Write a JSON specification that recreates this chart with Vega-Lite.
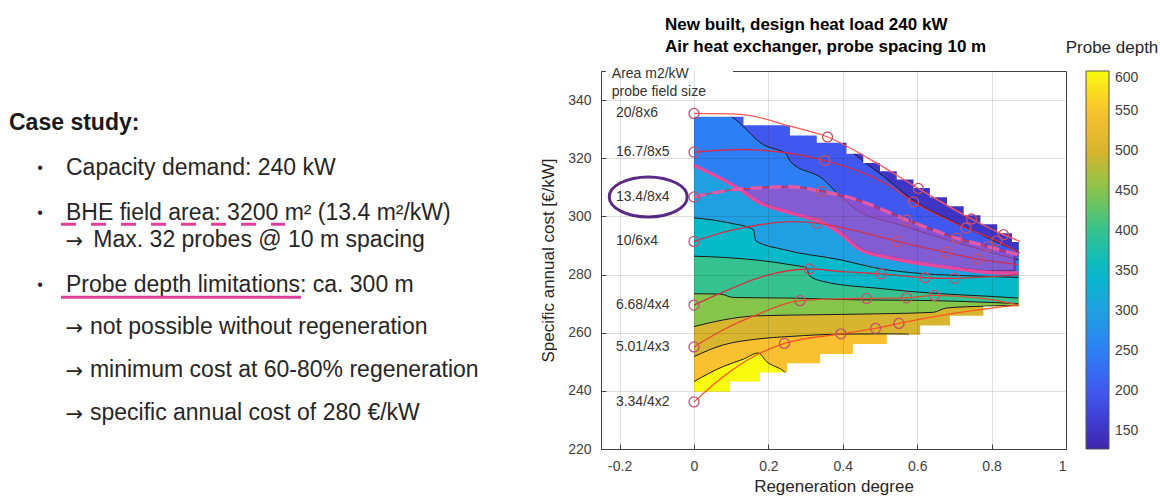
{
  "$schema": "https://vega.github.io/schema/vega-lite/v6.json",
  "background": "#ffffff",
  "padding": {"left": 0, "top": 15, "right": 0, "bottom": 0},
  "bounds": "flush",
  "spacing": 20,
  "config": {"font": "Liberation Sans", "view": {"stroke": null}},
  "datasets": {
    "slide": [
      {"line": 0, "indent": 0, "text": "Case study:", "style": "heading"},
      {"line": 1, "indent": 1, "text": "Capacity demand: 240 kW", "style": "bullet"},
      {"line": 2, "indent": 1, "text": "BHE field area: 3200 m² (13.4 m²/kW)", "style": "bullet"},
      {"line": 2.6, "indent": 1.48, "text": "Max. 32 probes @ 10 m spacing", "style": "arrow"},
      {"line": 3.6, "indent": 1, "text": "Probe depth limitations: ca. 300 m", "style": "bullet"},
      {"line": 4.54, "indent": 1.42, "text": "not possible without regeneration", "style": "arrow"},
      {"line": 5.49, "indent": 1.42, "text": "minimum cost at 60-80% regeneration", "style": "arrow"},
      {"line": 6.45, "indent": 1.42, "text": "specific annual cost of 280 €/kW", "style": "arrow"}
    ],
    "underlines": [
      {"line": 2.245, "from": 0.912, "to": 4.842, "dashed": true},
      {"line": 3.867, "from": 0.912, "to": 5.123, "dashed": false}
    ],
    "contours": [
      {"band": 600, "x": 0, "y": 236}, {"band": 600, "x": 0.872, "y": 236},
      {"band": 550, "x": 0, "y": 243.2}, {"band": 550, "x": 0.079, "y": 248.4}, {"band": 550, "x": 0.133, "y": 250.9}, {"band": 550, "x": 0.173, "y": 253.0}, {"band": 550, "x": 0.195, "y": 250.1}, {"band": 550, "x": 0.245, "y": 246.3}, {"band": 550, "x": 0.3, "y": 236}, {"band": 550, "x": 0.872, "y": 236},
      {"band": 500, "x": 0, "y": 251.8}, {"band": 500, "x": 0.079, "y": 255.8}, {"band": 500, "x": 0.169, "y": 257.8}, {"band": 500, "x": 0.258, "y": 258.7}, {"band": 500, "x": 0.392, "y": 259.5}, {"band": 500, "x": 0.5, "y": 259.6}, {"band": 500, "x": 0.576, "y": 259.5}, {"band": 500, "x": 0.6, "y": 236}, {"band": 500, "x": 0.872, "y": 236},
      {"band": 450, "x": 0, "y": 262.1}, {"band": 450, "x": 0.079, "y": 264.4}, {"band": 450, "x": 0.169, "y": 265.8}, {"band": 450, "x": 0.348, "y": 266.2}, {"band": 450, "x": 0.5, "y": 266.5}, {"band": 450, "x": 0.643, "y": 267.0}, {"band": 450, "x": 0.679, "y": 268.5}, {"band": 450, "x": 0.778, "y": 269.1}, {"band": 450, "x": 0.872, "y": 269.4},
      {"band": 400, "x": 0, "y": 273.4}, {"band": 400, "x": 0.07, "y": 273.3}, {"band": 400, "x": 0.106, "y": 272.1}, {"band": 400, "x": 0.258, "y": 271.9}, {"band": 400, "x": 0.437, "y": 271.3}, {"band": 400, "x": 0.616, "y": 271.1}, {"band": 400, "x": 0.796, "y": 270.4}, {"band": 400, "x": 0.872, "y": 270.0},
      {"band": 350, "x": 0, "y": 286.3}, {"band": 350, "x": 0.079, "y": 285.9}, {"band": 350, "x": 0.258, "y": 283.4}, {"band": 350, "x": 0.303, "y": 282.3}, {"band": 350, "x": 0.31, "y": 279.6}, {"band": 350, "x": 0.348, "y": 277.6}, {"band": 350, "x": 0.5, "y": 275.2}, {"band": 350, "x": 0.65, "y": 273.5}, {"band": 350, "x": 0.796, "y": 272.5}, {"band": 350, "x": 0.872, "y": 271.9},
      {"band": 300, "x": 0, "y": 299.5}, {"band": 300, "x": 0.097, "y": 297.7}, {"band": 300, "x": 0.16, "y": 295.4}, {"band": 300, "x": 0.166, "y": 291.6}, {"band": 300, "x": 0.24, "y": 288.6}, {"band": 300, "x": 0.392, "y": 285.1}, {"band": 300, "x": 0.5, "y": 282.0}, {"band": 300, "x": 0.616, "y": 280.3}, {"band": 300, "x": 0.75, "y": 279.5}, {"band": 300, "x": 0.872, "y": 279.0},
      {"band": 250, "x": 0, "y": 317.5}, {"band": 250, "x": 0.124, "y": 309.2}, {"band": 250, "x": 0.169, "y": 305.2}, {"band": 250, "x": 0.258, "y": 301.2}, {"band": 250, "x": 0.348, "y": 297.7}, {"band": 250, "x": 0.392, "y": 294.3}, {"band": 250, "x": 0.446, "y": 288.6}, {"band": 250, "x": 0.527, "y": 285.7}, {"band": 250, "x": 0.661, "y": 282.8}, {"band": 250, "x": 0.796, "y": 280.7}, {"band": 250, "x": 0.872, "y": 280.5},
      {"band": 200, "x": 0, "y": 338}, {"band": 200, "x": 0.06, "y": 337}, {"band": 200, "x": 0.101, "y": 334.3}, {"band": 200, "x": 0.186, "y": 324.7}, {"band": 200, "x": 0.249, "y": 321.3}, {"band": 200, "x": 0.258, "y": 319.0}, {"band": 200, "x": 0.348, "y": 312.7}, {"band": 200, "x": 0.384, "y": 308.1}, {"band": 200, "x": 0.437, "y": 302.3}, {"band": 200, "x": 0.55, "y": 297.2}, {"band": 200, "x": 0.7, "y": 291.2}, {"band": 200, "x": 0.872, "y": 285.0},
      {"band": 150, "x": 0, "y": 338}, {"band": 150, "x": 0.35, "y": 338}, {"band": 150, "x": 0.401, "y": 325.3}, {"band": 150, "x": 0.45, "y": 319.5}, {"band": 150, "x": 0.509, "y": 313.8}, {"band": 150, "x": 0.55, "y": 309.5}, {"band": 150, "x": 0.595, "y": 305.0}, {"band": 150, "x": 0.66, "y": 300.5}, {"band": 150, "x": 0.724, "y": 296.6}, {"band": 150, "x": 0.8, "y": 292.0}, {"band": 150, "x": 0.872, "y": 287.8}
    ],
    "edges": [
      {"edge": "top", "x": -0.003, "y": 334.3}, {"edge": "top", "x": 0.133, "y": 331.3}, {"edge": "top", "x": 0.258, "y": 327.8}, {"edge": "top", "x": 0.33, "y": 325.3}, {"edge": "top", "x": 0.41, "y": 321.5}, {"edge": "top", "x": 0.455, "y": 318.4}, {"edge": "top", "x": 0.5, "y": 315.5}, {"edge": "top", "x": 0.545, "y": 312.7}, {"edge": "top", "x": 0.59, "y": 309.8}, {"edge": "top", "x": 0.634, "y": 306.6}, {"edge": "top", "x": 0.68, "y": 303.5}, {"edge": "top", "x": 0.725, "y": 300.4}, {"edge": "top", "x": 0.77, "y": 297.3}, {"edge": "top", "x": 0.815, "y": 294.2}, {"edge": "top", "x": 0.855, "y": 291.2}, {"edge": "top", "x": 0.879, "y": 291.2},
      {"edge": "bottom", "x": -0.003, "y": 239.7}, {"edge": "bottom", "x": 0.097, "y": 243.2}, {"edge": "bottom", "x": 0.177, "y": 246.3}, {"edge": "bottom", "x": 0.25, "y": 249.5}, {"edge": "bottom", "x": 0.339, "y": 252.7}, {"edge": "bottom", "x": 0.427, "y": 256.1}, {"edge": "bottom", "x": 0.518, "y": 259.3}, {"edge": "bottom", "x": 0.608, "y": 262.5}, {"edge": "bottom", "x": 0.688, "y": 265.8}, {"edge": "bottom", "x": 0.778, "y": 269.0}, {"edge": "bottom", "x": 0.879, "y": 269.0}
    ],
    "feasible": [
      {"x": 0.124, "lo": 309.2, "hi": 309.2}, {"x": 0.169, "lo": 305.4, "hi": 309.8}, {"x": 0.258, "lo": 301.4, "hi": 310.2}, {"x": 0.348, "lo": 297.9, "hi": 308.6}, {"x": 0.392, "lo": 294.6, "hi": 307.2}, {"x": 0.446, "lo": 289.0, "hi": 305.4}, {"x": 0.527, "lo": 286.0, "hi": 301.2}, {"x": 0.616, "lo": 283.8, "hi": 296.6}, {"x": 0.706, "lo": 282.3, "hi": 292.5}, {"x": 0.796, "lo": 281.2, "hi": 289.4}, {"x": 0.862, "lo": 281.4, "hi": 287.0}
    ],
    "curves": [
      {"curve": "20/8x6", "x": 0, "y": 335.4, "sim": true}, {"curve": "20/8x6", "x": 0.124, "y": 335.1, "sim": false}, {"curve": "20/8x6", "x": 0.258, "y": 331.0, "sim": false}, {"curve": "20/8x6", "x": 0.359, "y": 327.3, "sim": true}, {"curve": "20/8x6", "x": 0.482, "y": 319.0, "sim": false}, {"curve": "20/8x6", "x": 0.603, "y": 309.6, "sim": true}, {"curve": "20/8x6", "x": 0.746, "y": 299.1, "sim": true}, {"curve": "20/8x6", "x": 0.832, "y": 293.7, "sim": true}, {"curve": "20/8x6", "x": 0.876, "y": 291.4, "sim": false},
      {"curve": "16.7/8x5", "x": 0, "y": 322.1, "sim": true}, {"curve": "16.7/8x5", "x": 0.124, "y": 323.0, "sim": false}, {"curve": "16.7/8x5", "x": 0.352, "y": 319.2, "sim": true}, {"curve": "16.7/8x5", "x": 0.527, "y": 310.4, "sim": false}, {"curve": "16.7/8x5", "x": 0.59, "y": 305.0, "sim": true}, {"curve": "16.7/8x5", "x": 0.731, "y": 296.0, "sim": true}, {"curve": "16.7/8x5", "x": 0.814, "y": 291.6, "sim": true}, {"curve": "16.7/8x5", "x": 0.876, "y": 287.4, "sim": false},
      {"curve": "13.4/8x4", "x": 0, "y": 306.7, "sim": true}, {"curve": "13.4/8x4", "x": 0.106, "y": 309.2, "sim": false}, {"curve": "13.4/8x4", "x": 0.169, "y": 309.8, "sim": false}, {"curve": "13.4/8x4", "x": 0.258, "y": 310.2, "sim": false}, {"curve": "13.4/8x4", "x": 0.343, "y": 308.6, "sim": true}, {"curve": "13.4/8x4", "x": 0.437, "y": 305.8, "sim": false}, {"curve": "13.4/8x4", "x": 0.527, "y": 301.2, "sim": false}, {"curve": "13.4/8x4", "x": 0.572, "y": 298.7, "sim": true}, {"curve": "13.4/8x4", "x": 0.616, "y": 296.6, "sim": false}, {"curve": "13.4/8x4", "x": 0.706, "y": 292.5, "sim": true}, {"curve": "13.4/8x4", "x": 0.79, "y": 289.6, "sim": true}, {"curve": "13.4/8x4", "x": 0.872, "y": 286.8, "sim": false},
      {"curve": "10/6x4", "x": 0, "y": 291.4, "sim": true}, {"curve": "10/6x4", "x": 0.093, "y": 295.0, "sim": false}, {"curve": "10/6x4", "x": 0.186, "y": 297.3, "sim": false}, {"curve": "10/6x4", "x": 0.26, "y": 298.2, "sim": false}, {"curve": "10/6x4", "x": 0.33, "y": 297.7, "sim": true}, {"curve": "10/6x4", "x": 0.437, "y": 295.0, "sim": false}, {"curve": "10/6x4", "x": 0.546, "y": 291.4, "sim": true}, {"curve": "10/6x4", "x": 0.678, "y": 287.6, "sim": true}, {"curve": "10/6x4", "x": 0.763, "y": 285.3, "sim": true}, {"curve": "10/6x4", "x": 0.872, "y": 283.4, "sim": false},
      {"curve": "6.68/4x4", "x": 0, "y": 269.5, "sim": true}, {"curve": "6.68/4x4", "x": 0.061, "y": 273.0, "sim": false}, {"curve": "6.68/4x4", "x": 0.186, "y": 279.4, "sim": false}, {"curve": "6.68/4x4", "x": 0.31, "y": 281.9, "sim": true}, {"curve": "6.68/4x4", "x": 0.4, "y": 281.0, "sim": false}, {"curve": "6.68/4x4", "x": 0.503, "y": 280.2, "sim": true}, {"curve": "6.68/4x4", "x": 0.621, "y": 278.9, "sim": true}, {"curve": "6.68/4x4", "x": 0.7, "y": 278.7, "sim": true}, {"curve": "6.68/4x4", "x": 0.8, "y": 279.3, "sim": false}, {"curve": "6.68/4x4", "x": 0.872, "y": 280.0, "sim": false},
      {"curve": "5.01/4x3", "x": 0, "y": 255.1, "sim": true}, {"curve": "5.01/4x3", "x": 0.079, "y": 261.0, "sim": false}, {"curve": "5.01/4x3", "x": 0.169, "y": 266.2, "sim": false}, {"curve": "5.01/4x3", "x": 0.285, "y": 271.0, "sim": true}, {"curve": "5.01/4x3", "x": 0.38, "y": 271.6, "sim": false}, {"curve": "5.01/4x3", "x": 0.464, "y": 271.8, "sim": true}, {"curve": "5.01/4x3", "x": 0.572, "y": 272.0, "sim": true}, {"curve": "5.01/4x3", "x": 0.646, "y": 272.8, "sim": true}, {"curve": "5.01/4x3", "x": 0.77, "y": 271.9, "sim": false}, {"curve": "5.01/4x3", "x": 0.872, "y": 269.6, "sim": false},
      {"curve": "3.34/4x2", "x": 0, "y": 236.2, "sim": true}, {"curve": "3.34/4x2", "x": 0.079, "y": 244.9, "sim": false}, {"curve": "3.34/4x2", "x": 0.169, "y": 252.4, "sim": false}, {"curve": "3.34/4x2", "x": 0.243, "y": 256.3, "sim": true}, {"curve": "3.34/4x2", "x": 0.395, "y": 259.6, "sim": true}, {"curve": "3.34/4x2", "x": 0.488, "y": 261.5, "sim": true}, {"curve": "3.34/4x2", "x": 0.551, "y": 263.2, "sim": true}, {"curve": "3.34/4x2", "x": 0.706, "y": 266.8, "sim": false}, {"curve": "3.34/4x2", "x": 0.872, "y": 269.6, "sim": false}
    ],
    "note": [{"note": "Area m2/kW\nprobe field size"}]
  },
  "hconcat": [
    {
      "width": 581,
      "height": 378,
      "data": {"name": "slide"},
      "layer": [
        {
          "transform": [{"filter": "datum.style === 'heading'"}],
          "mark": {"type": "text", "align": "left", "baseline": "middle", "fontSize": 23, "fontWeight": "bold", "color": "#1a1a1a"},
          "encoding": {
            "x": {"field": "indent", "type": "quantitative", "scale": {"domain": [-0.158, 10.035], "nice": false, "zero": false}, "axis": null},
            "y": {"field": "line", "type": "quantitative", "scale": {"domain": [-1.163, 7.244], "reverse": true, "nice": false, "zero": false}, "axis": null},
            "text": {"field": "text"}
          }
        },
        {
          "transform": [{"filter": "datum.style !== 'heading'"}],
          "mark": {"type": "text", "align": "left", "baseline": "middle", "fontSize": 23, "color": "#262626"},
          "encoding": {
            "x": {"field": "indent", "type": "quantitative"},
            "y": {"field": "line", "type": "quantitative"},
            "text": {"field": "text"}
          }
        },
        {
          "transform": [{"filter": "datum.style === 'bullet'"}],
          "mark": {"type": "text", "align": "center", "baseline": "middle", "fontSize": 16, "color": "#262626"},
          "encoding": {
            "x": {"datum": 0.544},
            "y": {"field": "line", "type": "quantitative"},
            "text": {"value": "•"}
          }
        },
        {
          "transform": [{"filter": "datum.style === 'arrow'"}],
          "mark": {"type": "text", "align": "left", "baseline": "middle", "fontSize": 21, "font": "DejaVu Sans", "color": "#262626", "dy": 2},
          "encoding": {
            "x": {"datum": 0.99},
            "y": {"field": "line", "type": "quantitative"},
            "text": {"value": "→"}
          }
        },
        {
          "data": {"name": "underlines"},
          "transform": [{"filter": "datum.dashed"}],
          "mark": {"type": "rule", "color": "#e0409c", "strokeWidth": 3, "strokeDash": [15, 15]},
          "encoding": {
            "x": {"field": "from", "type": "quantitative"},
            "x2": {"field": "to"},
            "y": {"field": "line", "type": "quantitative"}
          }
        },
        {
          "data": {"name": "underlines"},
          "transform": [{"filter": "!datum.dashed"}],
          "mark": {"type": "rule", "color": "#e0409c", "strokeWidth": 3},
          "encoding": {
            "x": {"field": "from", "type": "quantitative"},
            "x2": {"field": "to"},
            "y": {"field": "line", "type": "quantitative"}
          }
        }
      ]
    },
    {
      "width": 465,
      "height": 378,
      "view": {"stroke": "#404040", "strokeWidth": 1},
      "title": {
        "text": ["New built, design heat load 240 kW", "Air heat exchanger, probe spacing 10 m"],
        "anchor": "start", "frame": "group", "dx": 64, "fontSize": 17, "fontWeight": "bold",
        "lineHeight": 22, "offset": 10, "color": "#000000"
      },
      "layer": [
        {
          "data": {"name": "contours"},
          "mark": {"type": "area", "interpolate": "monotone", "opacity": 1},
          "encoding": {
            "x": {
              "field": "x", "type": "quantitative",
              "scale": {"domain": [-0.25, 1], "nice": false, "zero": false},
              "axis": {
                "values": [-0.2, 0, 0.2, 0.4, 0.6, 0.8, 1], "format": ".1~f",
                "labelExpr": "replace(datum.label, '−', '-')",
                "title": "Regeneration degree", "titleFontSize": 17, "titleFontWeight": "normal", "titleColor": "#262626", "titlePadding": 5,
                "labelFontSize": 14, "labelColor": "#404040", "labelPadding": 15,
                "tickSize": -5, "tickColor": "#404040", "domainColor": "#404040",
                "gridColor": "#262626", "gridOpacity": 0.14, "zindex": 1
              }
            },
            "y": {
              "field": "y", "type": "quantitative", "stack": null,
              "scale": {"domain": [220, 350], "nice": false, "zero": false},
              "axis": {
                "values": [220, 240, 260, 280, 300, 320, 340],
                "title": "Specific annual cost [€/kW]", "titleFontSize": 17, "titleFontWeight": "normal", "titleColor": "#262626", "titlePadding": 10,
                "labelFontSize": 14, "labelColor": "#404040", "labelPadding": 15,
                "tickSize": -5, "tickColor": "#404040", "domainColor": "#404040",
                "gridColor": "#262626", "gridOpacity": 0.14, "zindex": 1
              }
            },
            "y2": {"datum": 337},
            "color": {
              "field": "band", "type": "quantitative",
              "scale": {
                "domain": [128, 150, 200, 250, 300, 350, 400, 450, 500, 550, 600],
                "range": ["#3e26a8", "#3f34c6", "#4158f0", "#2e7ff5", "#1fa0e0", "#06b9c9", "#35c290", "#86c54c", "#d8b52e", "#f9c030", "#f9fb0e"],
                "interpolate": "rgb", "zero": false, "nice": false
              },
              "legend": {
                "title": "Probe depth", "orient": "none", "legendX": 1066, "legendY": -31, "direction": "vertical",
                "gradientLength": 378, "gradientThickness": 23, "values": [150, 200, 250, 300, 350, 400, 450, 500, 550, 600],
                "labelFontSize": 14, "labelColor": "#404040", "labelOffset": 6,
                "titleFontSize": 17, "titleFontWeight": "normal", "titleColor": "#262626", "titleAnchor": "middle", "titlePadding": 14,
                "gradientStrokeColor": "#555555", "gradientStrokeWidth": 1
              }
            },
            "detail": {"field": "band", "type": "nominal"}
          }
        },
        {
          "data": {"name": "contours"},
          "transform": [{"filter": "datum.band < 600"}],
          "mark": {"type": "line", "interpolate": "monotone", "color": "#1a1a1a", "strokeWidth": 1},
          "encoding": {
            "x": {"field": "x", "type": "quantitative"},
            "y": {"field": "y", "type": "quantitative"},
            "detail": {"field": "band", "type": "nominal"}
          }
        },
        {
          "data": {"name": "edges"},
          "transform": [{"filter": "datum.edge === 'top'"}],
          "mark": {"type": "area", "interpolate": "step-after", "color": "#ffffff", "opacity": 1},
          "encoding": {
            "x": {"field": "x", "type": "quantitative"},
            "y": {"field": "y", "type": "quantitative", "stack": null},
            "y2": {"datum": 342}
          }
        },
        {
          "data": {"name": "edges"},
          "transform": [{"filter": "datum.edge === 'bottom'"}],
          "mark": {"type": "area", "interpolate": "step-after", "color": "#ffffff", "opacity": 1},
          "encoding": {
            "x": {"field": "x", "type": "quantitative"},
            "y": {"field": "y", "type": "quantitative", "stack": null},
            "y2": {"datum": 233}
          }
        },
        {
          "data": {"name": "feasible"},
          "mark": {"type": "area", "interpolate": "monotone", "fill": "#a64fc3", "fillOpacity": 0.7, "stroke": "#6a3590", "strokeWidth": 2},
          "encoding": {
            "x": {"field": "x", "type": "quantitative"},
            "y": {"field": "lo", "type": "quantitative", "stack": null},
            "y2": {"field": "hi"}
          }
        },
        {
          "data": {"name": "contours"},
          "transform": [{"filter": "datum.band === 250"}],
          "mark": {"type": "line", "interpolate": "monotone", "color": "#e6489f", "strokeWidth": 3.5},
          "encoding": {
            "x": {"field": "x", "type": "quantitative"},
            "y": {"field": "y", "type": "quantitative"}
          }
        },
        {
          "data": {"name": "curves"},
          "mark": {"type": "line", "interpolate": "monotone", "strokeWidth": 1.3},
          "encoding": {
            "x": {"field": "x", "type": "quantitative"},
            "y": {"field": "y", "type": "quantitative"},
            "stroke": {
              "field": "curve", "type": "nominal",
              "scale": {
                "domain": ["20/8x6", "16.7/8x5", "13.4/8x4", "10/6x4", "6.68/4x4", "5.01/4x3", "3.34/4x2"],
                "range": ["#ff5757", "#cf2d4f", "#d23a5a", "#cc3350", "#d03545", "#e34b32", "#ff5522"]
              },
              "legend": null
            }
          }
        },
        {
          "data": {"name": "curves"},
          "transform": [{"filter": "datum.curve === '13.4/8x4'"}],
          "mark": {"type": "line", "interpolate": "monotone", "color": "#e05aaa", "strokeWidth": 3.5, "strokeDash": [12, 7]},
          "encoding": {
            "x": {"field": "x", "type": "quantitative"},
            "y": {"field": "y", "type": "quantitative"}
          }
        },
        {
          "data": {"name": "curves"},
          "transform": [{"filter": "datum.sim"}],
          "mark": {"type": "point", "shape": "circle", "filled": false, "color": "#c4506e", "strokeWidth": 1.3, "size": 100, "opacity": 1},
          "encoding": {
            "x": {"field": "x", "type": "quantitative"},
            "y": {"field": "y", "type": "quantitative"}
          }
        },
        {
          "data": {"name": "curves"},
          "transform": [{"filter": "datum.x === 0"}],
          "mark": {"type": "text", "align": "left", "baseline": "middle", "fontSize": 14, "color": "#333333"},
          "encoding": {
            "x": {"datum": -0.21},
            "y": {"field": "y", "type": "quantitative"},
            "text": {"field": "curve"}
          }
        },
        {
          "data": {"name": "note"},
          "mark": {"type": "rect", "color": "#ffffff"},
          "encoding": {
            "x": {"datum": -0.237},
            "x2": {"datum": 0.105},
            "y": {"datum": 339.3},
            "y2": {"datum": 351.6}
          }
        },
        {
          "data": {"name": "note"},
          "mark": {"type": "text", "align": "left", "baseline": "top", "fontSize": 14, "color": "#333333", "lineBreak": "\n", "lineHeight": 18.3},
          "encoding": {
            "x": {"datum": -0.221},
            "y": {"datum": 351.4},
            "text": {"field": "note"}
          }
        },
        {
          "data": {"name": "curves"},
          "transform": [{"filter": "datum.curve === '13.4/8x4' && datum.x === 0"}],
          "mark": {"type": "point", "shape": "M-1,0A1,0.513,0,1,1,1,0A1,0.513,0,1,1,-1,0Z", "filled": false, "color": "#5a2a85", "strokeWidth": 3, "size": 6084, "opacity": 1},
          "encoding": {
            "x": {"datum": -0.123},
            "y": {"field": "y", "type": "quantitative"}
          }
        }
      ]
    }
  ]
}
